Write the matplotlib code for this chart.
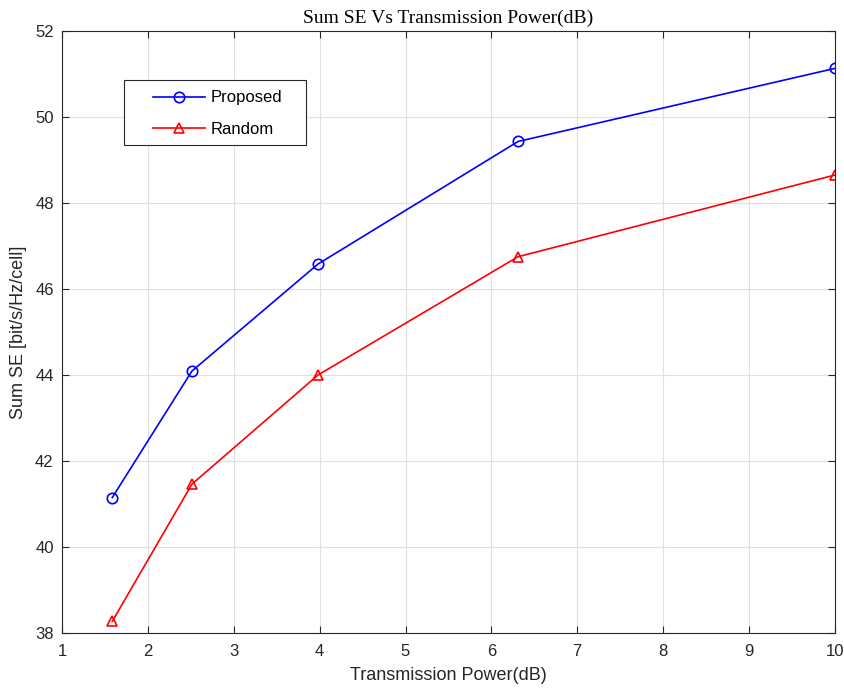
import matplotlib
matplotlib.use("Agg")
import matplotlib.pyplot as plt
from matplotlib.patches import Rectangle

# Transmission power (linear, 10^(0.2..1.0)) and sum SE values
power = [1.585, 2.512, 3.981, 6.310, 10.0]
proposed = [41.15, 44.09, 46.58, 49.43, 51.13]
random_sel = [38.27, 41.46, 44.00, 46.75, 48.65]

x_ticks = list(range(1, 11))
y_ticks = list(range(38, 53, 2))

plt.rcParams['font.family'] = ['Liberation Sans', 'DejaVu Sans']

fig = plt.figure(figsize=(8.45, 6.9), dpi=100)
ax = fig.add_axes([0.0734, 0.0826, 0.9146, 0.8725])

ax.plot(power, proposed, '-', color='#0000ff', linewidth=1.2, marker='o',
        markersize=7.5, markerfacecolor='none', markeredgewidth=1.2, label='Proposed')
ax.plot(power, random_sel, '-', color='#ff0000', linewidth=1.2, marker='^',
        markersize=7.5, markerfacecolor='none', markeredgewidth=1.2, label='Random')

ax.set_xlim(1, 10)
ax.set_ylim(38, 52)
ax.set_xticks(x_ticks)
ax.set_yticks(y_ticks)
ax.grid(True, color='#e0e0e0', linewidth=0.8)
ax.tick_params(direction='in', top=True, right=True, labelsize=12, colors='#262626',
               length=5)
ax.tick_params(axis='x', pad=8)
ax.tick_params(axis='y', pad=6)
for s in ax.spines.values():
    s.set_color('#262626')
    s.set_linewidth(0.8)

ax.set_xlabel('Transmission Power(dB)', fontsize=13, color='#262626', labelpad=6)
ax.set_ylabel('Sum SE [bit/s/Hz/cell]', fontsize=13, color='#262626', labelpad=6)
ax.set_title('Sum SE Vs Transmission Power(dB)', fontsize=14,
             family=['Liberation Serif', 'DejaVu Serif'], pad=6)

# legend box drawn separately so the padding matches the reference
ax.add_patch(Rectangle((0.0802, 0.8106), 0.2355, 0.108, transform=ax.transAxes,
                       facecolor='white', edgecolor='#262626', linewidth=0.8,
                       zorder=4))
leg = ax.legend(loc='center left', bbox_to_anchor=(0.1177, 0.8625), borderaxespad=0,
                fontsize=12, frameon=False, borderpad=0,
                handlelength=3.1, handletextpad=0.35, labelspacing=1.0)
leg.set_zorder(5)

fig.savefig('out.png', dpi=100)
